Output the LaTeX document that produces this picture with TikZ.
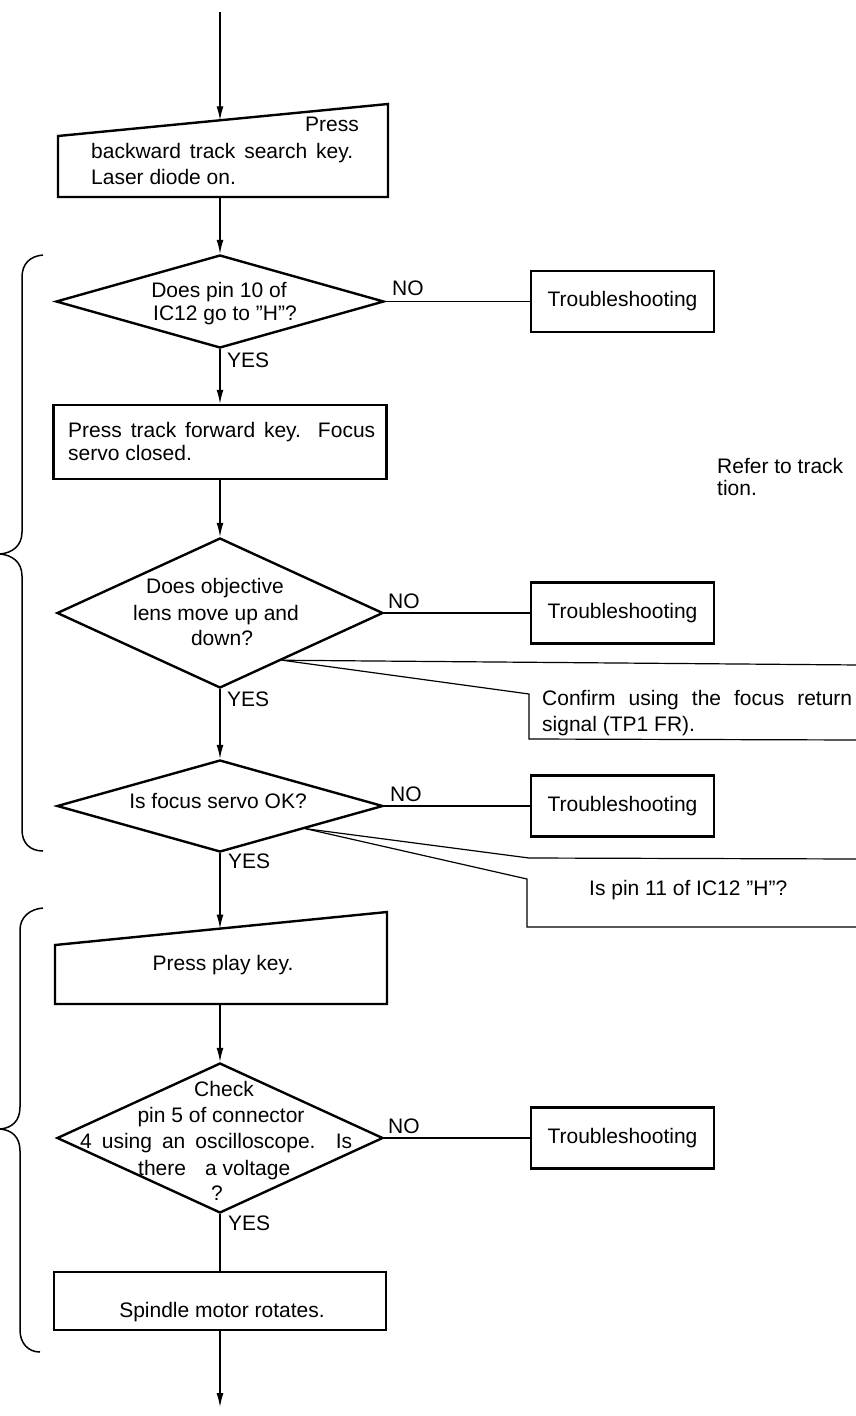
\documentclass[tikz,border=0pt]{standalone}
\usepackage{fontspec}
\setmainfont{Liberation Sans}
\usetikzlibrary{shapes.geometric,arrows.meta,calc}
\begin{document}
\begin{tikzpicture}[x=1pt,y=-1pt,
  font=\fontsize{21}{26}\selectfont,
  shapeline/.style={draw,line width=2.4pt,line join=miter},
  conn/.style={line width=1.3pt},
  arr/.style={conn,-{Latex[length=14pt,width=7pt]}},
  callout/.style={line width=1.2pt},
  bracestyle/.style={line width=1.5pt},
  dia/.style={diamond,shapeline,inner sep=0pt},
  tbox/.style={rectangle,shapeline,inner sep=0pt,minimum width=183pt,minimum height=61pt},
  pbox/.style={rectangle,shapeline,inner sep=0pt},
  txt/.style={inner sep=0pt},
  lbl/.style={inner sep=0pt,anchor=base west}
]
\fill[white] (0,0) rectangle (855,1416);
\useasboundingbox (0,0) rectangle (855,1416);

% ---------- top trapezoid ----------
\coordinate (start) at (220,12);
\draw[shapeline] (58,136) -- (388,104) -- (388,197) -- (58,197) -- cycle;
\coordinate (b1in) at (220,120.3);
\coordinate (b1out) at (220,197);
\node[lbl] (t1a) at (305,131) {Press};
\node[lbl] (t1b) at (91,158) {\makebox[262pt][s]{backward track search key.}};
\node[lbl] (t1c) at (91,184) {Laser diode on.};
\draw[arr] (start) -- (b1in);

% ---------- diamond 1 ----------
\node[dia,minimum width=328pt,minimum height=93pt] (d1) at (220,301.5) {};
\node[txt,anchor=base] (d1a) at (219,297) {Does pin 10 of};
\node[txt,anchor=base] (d1b) at (225,320) {IC12 go to ''H''?};
\draw[arr] (b1out) -- (d1.north);
\node[tbox] (tr1) at (622.5,301.5) {Troubleshooting};
\draw[conn] (d1.east) -- (tr1.west);
\node[lbl] (no1) at (392,295) {NO};
\node[lbl] (yes1) at (227,367) {YES};

% ---------- box 2 ----------
\node[pbox,minimum width=333pt,minimum height=74pt] (b2) at (220,442) {};
\node[lbl] (b2a) at (68,437) {\makebox[307pt][s]{Press track forward key. Focus}};
\node[lbl] (b2b) at (68,460) {servo closed.};
\draw[arr] (d1.south) -- (d1.south |- b2.north);
\node[lbl] (ref1) at (717,473) {Refer to track};
\node[lbl] (ref2) at (717,495) {tion.};

% ---------- diamond 2 ----------
\node[dia,minimum width=326pt,minimum height=150pt] (d2) at (220,613) {};
\draw[arr] (b2.south) -- (d2.north);
\node[txt,anchor=base] (d2a) at (215,593) {Does objective};
\node[txt,anchor=base] (d2b) at (216,620) {lens move up and};
\node[txt,anchor=base] (d2c) at (222,645) {down?};
\node[tbox] (tr2) at (622.5,613) {Troubleshooting};
\draw[conn] (d2.east) -- (tr2.west);
\node[lbl] (no2) at (388,608) {NO};
\node[lbl] (yes2) at (227,706) {YES};

% callout 1
\coordinate (c1) at ($(d2.east)!0.62!(d2.south)$);
\coordinate (c1a) at (860,665);
\coordinate (c1b) at (529,694);
\coordinate (c1c) at (529,739);
\coordinate (c1d) at (860,740);
\draw[callout] (c1) -- (c1a);
\draw[callout] (c1) -- (c1b) -- (c1c) -- (c1d);
\node[lbl] (co1a) at (542,705) {\makebox[310pt][s]{Confirm using the focus return}};
\node[lbl] (co1b) at (542,731) {signal (TP1 FR).};

% ---------- diamond 3 ----------
\node[dia,minimum width=326pt,minimum height=92pt] (d3) at (220,806) {};
\draw[arr] (d2.south) -- (d3.north);
\node[txt,anchor=base] (d3a) at (218,808) {Is focus servo OK?};
\node[tbox] (tr3) at (622.5,806) {Troubleshooting};
\draw[conn] (d3.east) -- (tr3.west);
\node[lbl] (no3) at (390,801) {NO};
\node[lbl] (yes3) at (228,868) {YES};

% callout 2
\coordinate (c2) at ($(d3.east)!0.48!(d3.south)$);
\coordinate (c2a) at (529,858);
\coordinate (c2b) at (860,859);
\coordinate (c2c) at (527,879);
\coordinate (c2d) at (527,927);
\coordinate (c2e) at (860,927);
\draw[callout] (c2) -- (c2a) -- (c2b);
\draw[callout] (c2) -- (c2c) -- (c2d) -- (c2e);
\node[lbl] (co2) at (589,895) {Is pin 11 of IC12 ''H''?};

% ---------- box 3 (trapezoid) ----------
\draw[shapeline] (55,945) -- (387,912) -- (387,1004) -- (55,1004) -- cycle;
\coordinate (b3in) at (220,928.6);
\coordinate (b3out) at (220,1004);
\draw[arr] (d3.south) -- (b3in);
\node[txt,anchor=base] (b3t) at (223,970) {Press play key.};

% ---------- diamond 4 ----------
\node[dia,minimum width=326pt,minimum height=150pt] (d4) at (220,1138) {};
\draw[arr] (b3out) -- (d4.north);
\node[txt,anchor=base] (d4a) at (224,1096) {Check};
\node[txt,anchor=base] (d4b) at (221,1122) {pin 5 of connector};
\node[lbl] (d4c) at (80,1148) {\makebox[272pt][s]{4 using an oscilloscope. Is}};
\node[lbl] (d4d) at (138,1175) {there\hspace{19pt}a voltage};
\node[txt,anchor=base] (d4e) at (217,1200) {?};
\node[tbox] (tr4) at (622.5,1138) {Troubleshooting};
\draw[conn] (d4.east) -- (tr4.west);
\node[lbl] (no4) at (388,1133) {NO};
\node[lbl] (yes4) at (228,1230) {YES};

% ---------- spindle box ----------
\node[pbox,minimum width=332pt,minimum height=58pt] (b5) at (220,1301) {};
\node[txt,anchor=base] (b5t) at (222,1317) {Spindle motor rotates.};
\draw[conn] (d4.south) -- (b5.north);
\coordinate (end) at (220,1407);
\draw[arr] (b5.south) -- (end);

% ---------- braces ----------
\draw[bracestyle] (43,255) .. controls (30,256) and (22,264) .. (22,277)
  -- (22,532) .. controls (22,546) and (12,553) .. (0,554)
  .. controls (12,555) and (22,562) .. (22,576)
  -- (22,830) .. controls (22,843) and (30,851) .. (43,851);
\draw[bracestyle] (43,908) .. controls (30,909) and (20,917) .. (20,930)
  -- (20,1107) .. controls (20,1121) and (12,1128) .. (0,1129)
  .. controls (12,1130) and (20,1137) .. (20,1151)
  -- (20,1330) .. controls (20,1343) and (28,1352) .. (40,1352);
\end{tikzpicture}
\end{document}
